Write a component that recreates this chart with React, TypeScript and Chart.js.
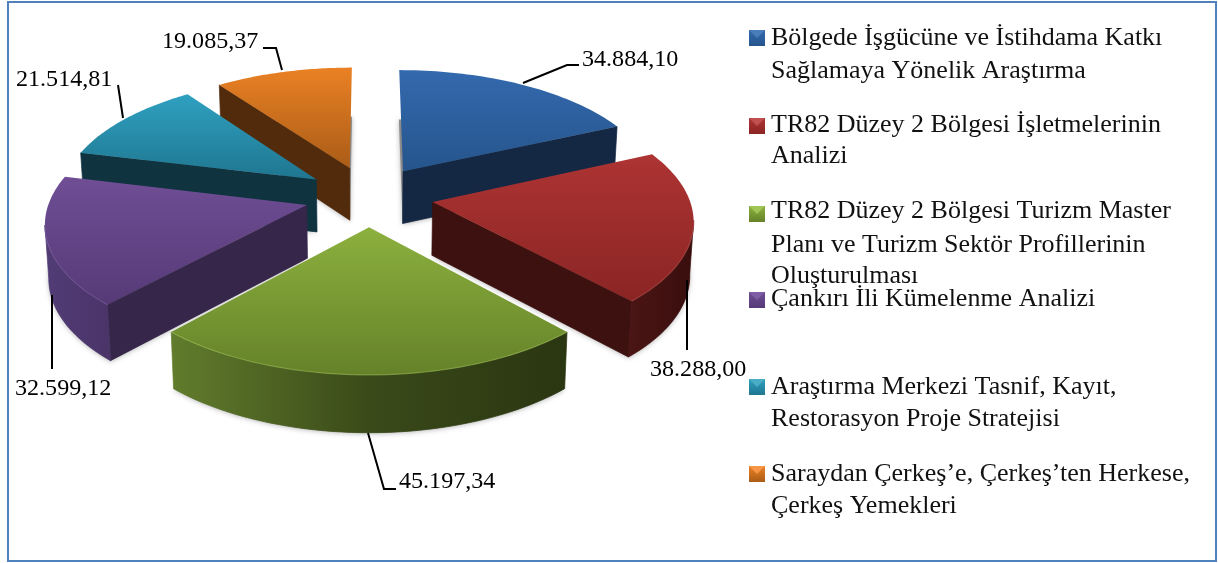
import React, { useEffect, useRef } from "react";
import { Chart, registerables } from "chart.js";

Chart.register(...registerables);

const legendLines = [
  ["Bölgede İşgücüne ve İstihdama Katkı", "Sağlamaya Yönelik Araştırma"],
  ["TR82 Düzey 2 Bölgesi İşletmelerinin", "Analizi"],
  ["TR82 Düzey 2 Bölgesi Turizm Master", "Planı ve Turizm Sektör Profillerinin", "Oluşturulması"],
  ["Çankırı İli Kümelenme Analizi"],
  ["Araştırma Merkezi Tasnif, Kayıt,", "Restorasyon Proje Stratejisi"],
  ["Saraydan Çerkeş’e, Çerkeş’ten Herkese,", "Çerkeş Yemekleri"],
];
const categories = legendLines.map((l) => l.join(" "));
const values = [34884.1, 38288.0, 45197.34, 32599.12, 21514.81, 19085.37];
const valueLabels = ["34.884,10", "38.288,00", "45.197,34", "32.599,12", "21.514,81", "19.085,37"];

const sliceStyles = [
  { t0: "#3369ae", t1: "#26558c", wall: "#142843", a0: "#1a3557", a1: "#142843", rim: "#4a7cba" },
  { t0: "#ad3433", t1: "#8a2524", wall: "#3d1110", a0: "#4a1514", a1: "#380e0d", rim: "#c0504d" },
  { t0: "#8cb03e", t1: "#658229", wall: "#2c3913", a0: "#617c2c", a1: "#2a3611", rim: "#a0c455" },
  { t0: "#6f4e95", t1: "#563a77", wall: "#36264a", a0: "#523c76", a1: "#4a3468", rim: "#7d5ea6" },
  { t0: "#2fa0c0", t1: "#1f7690", wall: "#103340", a0: "#154253", a1: "#103340", rim: "#4bacc6" },
  { t0: "#ea8124", t1: "#aa5c17", wall: "#512b0b", a0: "#5c310d", a1: "#4a280a", rim: "#f79646" },
];

const labelLayout = [
  { x: 582, y: 66, path: [[523, 83], [567, 65], [579, 65]] },
  { x: 650, y: 376, path: [[687, 280], [687, 350]] },
  { x: 399, y: 488, path: [[368, 433], [384, 489], [396, 489]] },
  { x: 15, y: 395, path: [[52, 295], [52, 369]] },
  { x: 16, y: 86, path: [[118, 85], [123, 118]] },
  { x: 162, y: 48, path: [[263, 48], [276, 48], [282, 70]] },
];
const legendBaselines = [[45, 78], [132, 163], [218, 252, 283], [306], [394, 426], [481, 513]];
const markerTops = [30, 118, 206, 292, 379, 466];

const CX = 369, CY = 196, AX = 256, AY = 120, PERSP = 0.128, DEPTH = 53, CONVERGE = 0.012;
const project = (u: number, v: number, down: number) => {
  const s = 1 / (1 + PERSP * v);
  return [
    CX + u * AX * s * (1 - CONVERGE * down),
    CY - v * AY * s + down * DEPTH * Math.sqrt(s),
  ];
};

const SERIF = '"Liberation Serif", serif';

const fan = {
  id: "fan3d",
  beforeDraw(chart: any) {
    const c = chart.ctx;
    c.save();
    c.fillStyle = "#fff";
    c.fillRect(0, 0, chart.width, chart.height);
    c.strokeStyle = "#4f81bd";
    c.lineWidth = 2;
    c.strokeRect(8, 2, 1208, 559);
    c.restore();
  },
  beforeDatasetsDraw(chart: any) {
    const c = chart.ctx;
    const meta = chart.getDatasetMeta(0);
    const slices = meta.data.map((arc: any, i: number) => {
      const r = arc.outerRadius;
      const e = arc.options.offset / r;
      const a0 = arc.startAngle + Math.PI / 2;
      const a1 = arc.endAngle + Math.PI / 2;
      const m = (a0 + a1) / 2;
      const ou = Math.sin(m) * e;
      const ov = Math.cos(m) * e;
      const pts: number[][] = [];
      const n = 48;
      for (let k = 0; k <= n; k++) {
        const t = a0 + ((a1 - a0) * k) / n;
        pts.push([ou + Math.sin(t), ov + Math.cos(t)]);
      }
      return { i, ou, ov, pts };
    });
    slices.sort((a: any, b: any) => b.ov - a.ov);

    const poly = (list: number[][]) => {
      c.beginPath();
      list.forEach((p, k) => (k ? c.lineTo(p[0], p[1]) : c.moveTo(p[0], p[1])));
      c.closePath();
    };

    slices.forEach((s: any) => {
      const st = sliceStyles[s.i];
      const tip = [s.ou, s.ov];
      const outline = [tip, ...s.pts];
      const top = outline.map((p) => project(p[0], p[1], 0));
      const low = outline.map((p) => project(p[0], p[1], 1));
      const last = top.length - 1;

      // soft cast shadow of the slice's base
      c.save();
      c.shadowColor = "rgba(0,0,0,0.4)";
      c.shadowBlur = 5;
      c.shadowOffsetY = 1;
      c.fillStyle = "rgba(110,110,110,0.7)";
      poly(low);
      c.fill();
      c.restore();

      // radial walls that face the viewer
      const wall = (a: number, b: number) => {
        if (top[b][0] - top[a][0] > -5) return;
        c.fillStyle = st.wall;
        c.strokeStyle = st.wall;
        c.lineWidth = 0.7;
        poly([top[a], top[b], low[b], low[a]]);
        c.fill();
        c.stroke();
      };
      wall(0, 1);
      wall(last, 0);

      // front part of the curved wall
      const front: number[] = [];
      for (let k = 1; k < last; k++) {
        if (top[k + 1][0] < top[k][0]) {
          if (!front.length) front.push(k);
          front.push(k + 1);
        }
      }
      if (front.length) {
        const xs = front.map((k) => top[k][0]);
        const gx = c.createLinearGradient(Math.min(...xs), 0, Math.max(...xs), 0);
        gx.addColorStop(0, st.a0);
        if (s.i === 2) gx.addColorStop(0.5, "#3a4a19");
        gx.addColorStop(1, st.a1);
        c.fillStyle = gx;
        c.strokeStyle = gx;
        c.lineWidth = 0.7;
        poly([...front.map((k) => top[k]), ...front.map((k) => low[k]).reverse()]);
        c.fill();
        c.stroke();
      }

      // top face
      const ys = top.map((p) => p[1]);
      const gy = c.createLinearGradient(0, Math.min(...ys), 0, Math.max(...ys));
      gy.addColorStop(0, st.t0);
      gy.addColorStop(1, st.t1);
      c.fillStyle = gy;
      poly(top);
      c.fill();

      // bevelled rim along the front of the arc
      if (front.length) {
        c.save();
        c.strokeStyle = st.rim;
        c.globalAlpha = 0.5;
        c.lineWidth = 1.2;
        c.beginPath();
        front.forEach((k, j) => (j ? c.lineTo(top[k][0], top[k][1]) : c.moveTo(top[k][0], top[k][1])));
        c.stroke();
        c.restore();
      }
    });
    return false;
  },
  afterDraw(chart: any) {
    const c = chart.ctx;
    c.save();
    c.textBaseline = "alphabetic";
    c.textAlign = "left";

    c.font = `24.1px ${SERIF}`;
    c.fillStyle = "#000";
    c.strokeStyle = "#000";
    c.lineWidth = 2;
    labelLayout.forEach((l, i) => {
      c.beginPath();
      l.path.forEach((p, k) => (k ? c.lineTo(p[0], p[1]) : c.moveTo(p[0], p[1])));
      c.stroke();
      c.fillText(valueLabels[i], l.x, l.y);
    });

    c.font = `26px ${SERIF}`;
    legendLines.forEach((lines, i) => {
      const st = sliceStyles[i];
      const x = 749, y = markerTops[i], w = 16;
      const g = c.createLinearGradient(0, y, 0, y + w);
      g.addColorStop(0, st.t0);
      g.addColorStop(1, st.t1);
      c.fillStyle = g;
      c.fillRect(x, y, w, w);
      c.fillStyle = st.rim;
      c.beginPath();
      c.moveTo(x, y);
      c.lineTo(x + w, y);
      c.lineTo(x + w / 2, y + w / 2);
      c.closePath();
      c.fill();
      c.fillStyle = "#111";
      lines.forEach((t, k) => c.fillText(t, 771, legendBaselines[i][k]));
    });
    c.restore();
  },
};

export default function App() {
  const ref = useRef<HTMLCanvasElement>(null);
  useEffect(() => {
    const chart = new Chart(ref.current!, {
      type: "pie",
      data: {
        labels: categories,
        datasets: [{ data: values, offset: 63, borderWidth: 0 }],
      },
      options: {
        responsive: false,
        animation: false,
        events: [],
        plugins: { legend: { display: false }, tooltip: { enabled: false } },
      },
      plugins: [fan],
    } as any);
    return () => chart.destroy();
  }, []);
  return (
    <div style={{ position: "absolute", left: 0, top: 0, width: 1218, height: 563 }}>
      <canvas ref={ref} width={1218} height={563} style={{ display: "block" }} />
    </div>
  );
}
